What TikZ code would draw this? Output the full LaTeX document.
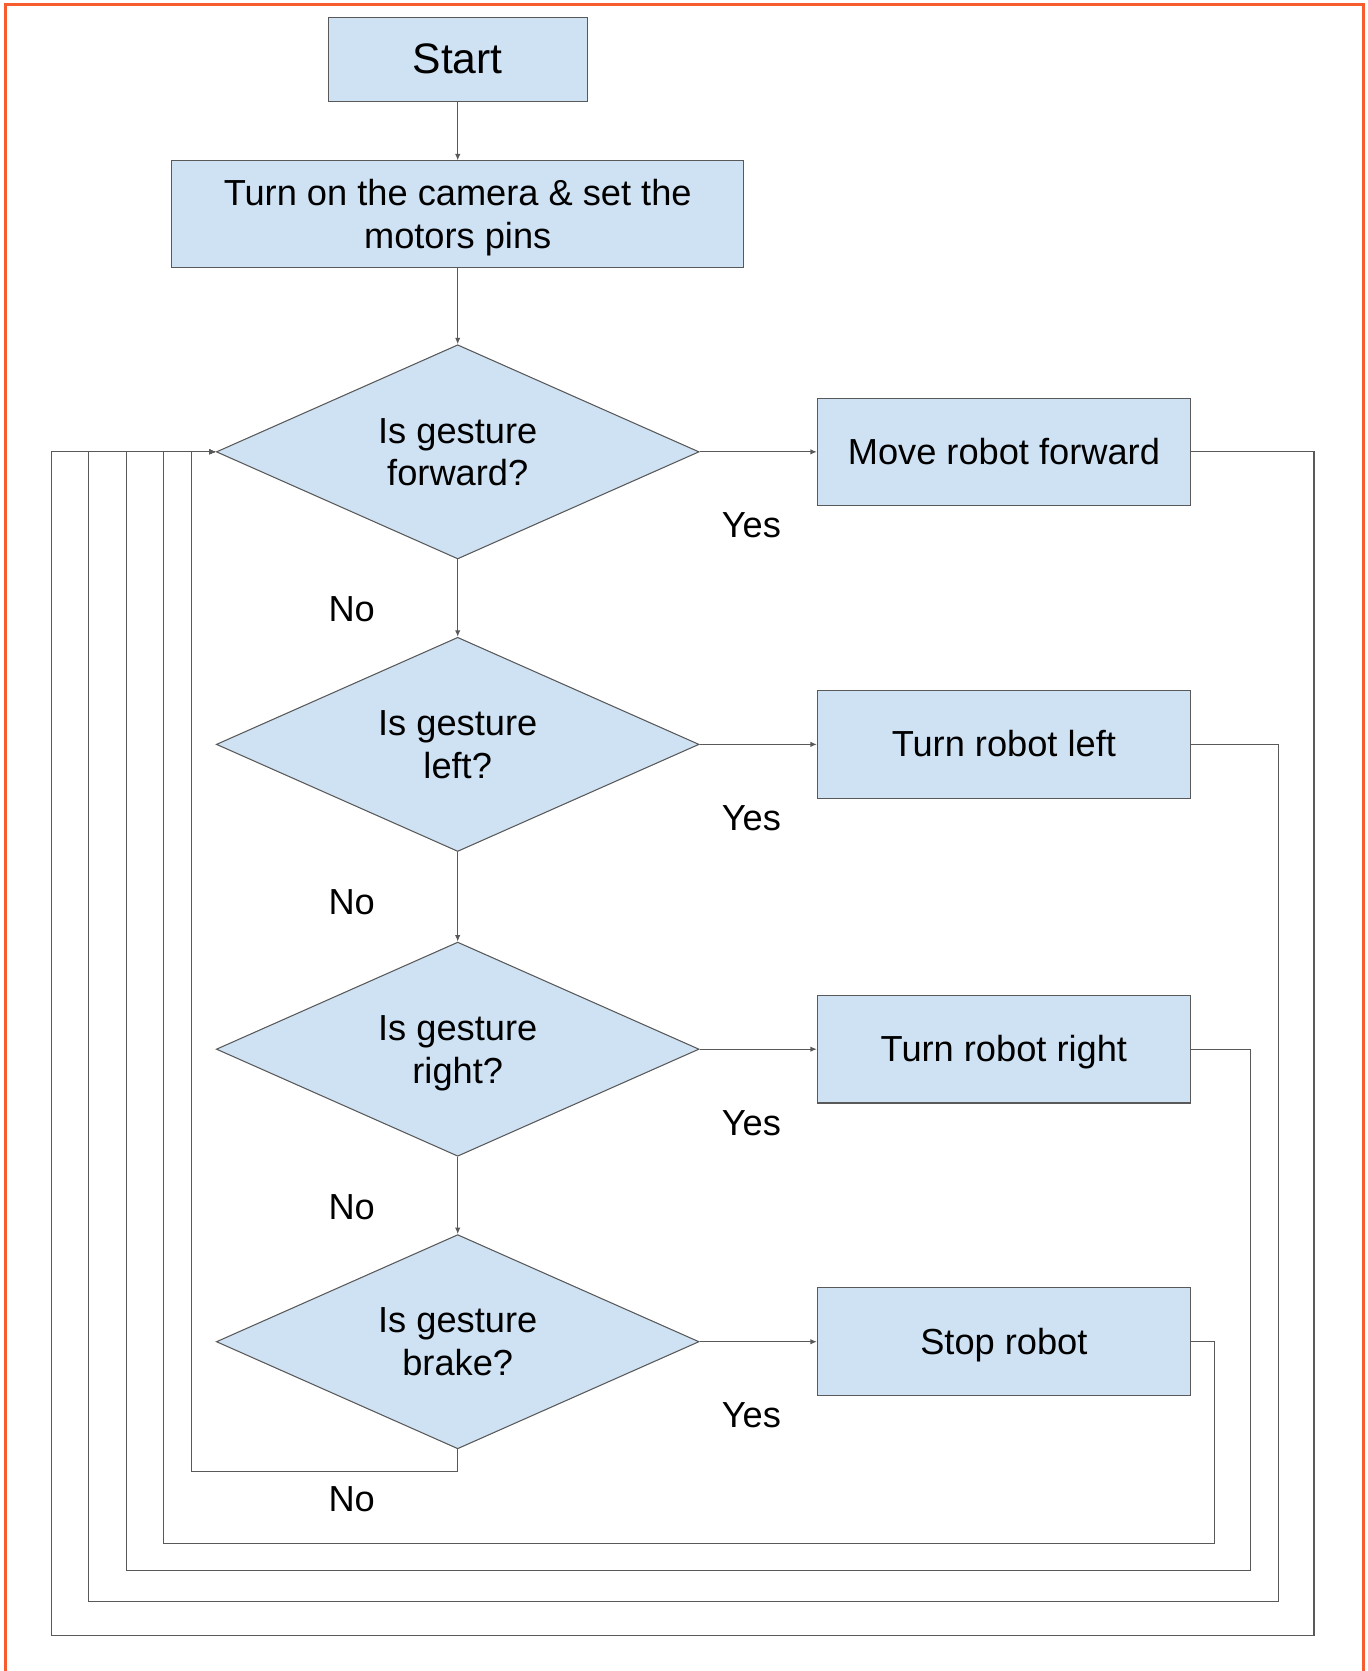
\documentclass[tikz,border=0pt]{standalone}
\usepackage{fontspec}
\setmainfont{Liberation Sans}
\usetikzlibrary{shapes.geometric,arrows.meta}
\definecolor{boxfill}{HTML}{CFE2F3}
\definecolor{boxline}{HTML}{595959}
\definecolor{frameor}{HTML}{F75C2F}
\newcommand\gsTop{\rule{0pt}{0.905em}}
\newcommand\gsBot{\rule[-0.212em]{0pt}{0pt}}
\begin{document}
\begin{tikzpicture}[x=1pt,y=-1pt,
  every node/.style={font=\fontsize{34}{40}\selectfont},
  procbox/.style={draw=boxline,fill=boxfill,line width=1pt,rectangle,align=center,inner sep=0pt},
  decbox/.style={draw=boxline,fill=boxfill,line width=1pt,diamond,aspect=2.25,align=center,inner sep=0pt,minimum width=453pt,minimum height=201pt},
  conn/.style={draw=boxline,line width=1pt},
  arr/.style={conn,-{Latex[length=6pt,width=5pt]}},
  lbl/.style={inner sep=0pt}]
\useasboundingbox (0,0) rectangle (1283,1568);
\draw[frameor,line width=2.8pt] (5,1575) -- (5,4) -- (1279,4) -- (1279,1575);

\node[procbox,minimum width=243pt,minimum height=79pt,font=\fontsize{40}{46}\selectfont] (start) at (429.5,55.5) {\gsTop Start\gsBot};
\node[procbox,minimum width=537pt,minimum height=100pt] (init) at (429.5,201) {\gsTop Turn on the camera \& set the\\motors pins\gsBot};

\node[decbox] (d1) at (429.5,424) {\gsTop Is gesture\\forward?\gsBot};
\node[decbox] (d2) at (429.5,698.5) {\gsTop Is gesture\\left?\gsBot};
\node[decbox] (d3) at (429.5,984.5) {\gsTop Is gesture\\right?\gsBot};
\node[decbox] (d4) at (429.5,1259) {\gsTop Is gesture\\brake?\gsBot};

\node[procbox,minimum width=350pt,minimum height=101pt] (a1) at (942,424) {\gsTop Move robot forward\gsBot};
\node[procbox,minimum width=350pt,minimum height=101pt] (a2) at (942,698.5) {\gsTop Turn robot left\gsBot};
\node[procbox,minimum width=350pt,minimum height=101pt] (a3) at (942,984.5) {\gsTop Turn robot right\gsBot};
\node[procbox,minimum width=350pt,minimum height=101pt] (a4) at (942,1259) {\gsTop Stop robot\gsBot};

\node[lbl] (y1) at (705,493) {Yes};
\node[lbl] (y2) at (705,767.5) {Yes};
\node[lbl] (y3) at (705,1053.5) {Yes};
\node[lbl] (y4) at (705,1328) {Yes};
\node[lbl] (n1) at (330,572) {No};
\node[lbl] (n2) at (330,846.5) {No};
\node[lbl] (n3) at (330,1132.5) {No};
\node[lbl] (n4) at (330,1406.5) {No};

\draw[arr] (start.south) -- (init.north);
\draw[arr] (init.south) -- (d1.north);
\draw[arr] (d1.south) -- (d2.north);
\draw[arr] (d2.south) -- (d3.north);
\draw[arr] (d3.south) -- (d4.north);
\draw[arr] (d1.east) -- (a1.west);
\draw[arr] (d2.east) -- (a2.west);
\draw[arr] (d3.east) -- (a3.west);
\draw[arr] (d4.east) -- (a4.west);

\coordinate (b0) at (180,1381);
\coordinate (b4) at (1140,1448);
\coordinate (b3) at (1173,1474);
\coordinate (b2) at (1200,1503);
\coordinate (b1) at (1233,1535);
\coordinate (l4) at (153,1448);
\coordinate (l3) at (119,1474);
\coordinate (l2) at (83,1503);
\coordinate (l1) at (48,1535);

\draw[arr] (d4.south) |- (b0) |- (d1.west);
\draw[arr] (a4.east) -| (b4) -- (l4) |- (d1.west);
\draw[arr] (a3.east) -| (b3) -- (l3) |- (d1.west);
\draw[arr] (a2.east) -| (b2) -- (l2) |- (d1.west);
\draw[arr] (a1.east) -| (b1) -- (l1) |- (d1.west);
\end{tikzpicture}
\end{document}
